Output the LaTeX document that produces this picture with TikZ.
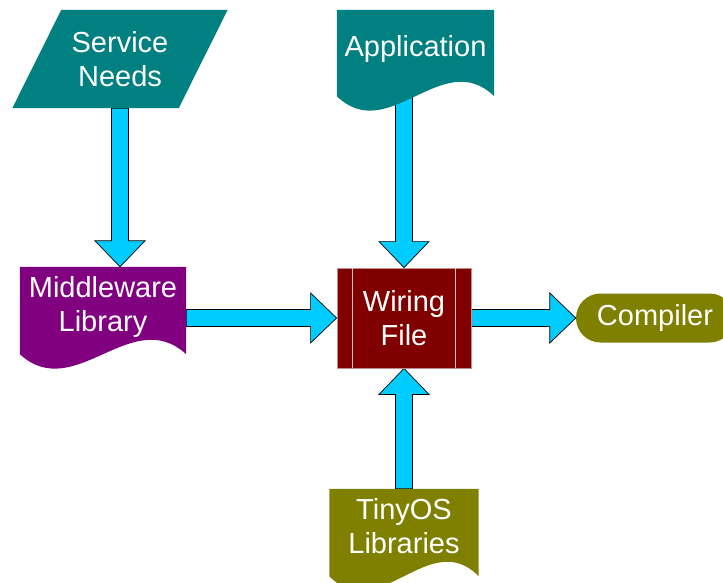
\documentclass[tikz,border=0pt]{standalone}
\usepackage{fontspec}
\setmainfont{Liberation Sans}
\usetikzlibrary{calc,backgrounds}
\definecolor{snteal}{HTML}{008080}
\definecolor{mwpurple}{HTML}{800080}
\definecolor{wfmaroon}{HTML}{800000}
\definecolor{tosolive}{HTML}{808000}
\definecolor{arrowcyan}{HTML}{00CCFF}
\tikzset{
  label/.style={inner sep=0pt, text=white, align=center, font=\fontsize{29}{34}\selectfont},
  docbox/.style={label, minimum height=86pt, text depth=14pt},
  fatarrow/.style={fill=arrowcyan, draw=black, line width=0.7pt, line join=miter},
  wfline/.style={draw=white!75!wfmaroon, line width=0.8pt}
}
\newcommand{\blockarrow}[2]{%
  \coordinate (ah) at ($(#2)!26pt!(#1)$);
  \draw[fatarrow] ($(#1)!8.5pt!90:(#2)$) -- ($(ah)!8.5pt!90:(#2)$) -- ($(ah)!25pt!90:(#2)$) -- (#2)
    -- ($(ah)!25pt!-90:(#2)$) -- ($(ah)!8.5pt!-90:(#2)$) -- ($(#1)!8.5pt!-90:(#2)$) -- cycle;}
\newcommand{\docfill}[2]{%
  \fill[#2] (#1.south west) -- (#1.north west) -- (#1.north east) -- (#1.south east)
    .. controls ($(#1.south east)!0.33!(#1.south west)+(0,-50)$) and ($(#1.south west)!0.33!(#1.south east)+(0,50)$) .. (#1.south west) -- cycle;}
\begin{document}
\begin{tikzpicture}[x=1pt,y=-1pt]
    \useasboundingbox (0,0) rectangle (723,583);
    \clip (0,0) rectangle (723,583);
    \node[label, minimum width=166pt, minimum height=98pt] (sn) at (120,59) {Service\\Needs};
    \node[docbox, minimum width=157pt] (app) at (415.5,53) {Application};
    \node[docbox, minimum width=166pt, minimum height=87pt] (mw) at (103,310.5) {Middleware\\Library};
    \node[label, minimum width=134pt, minimum height=100pt, fill=wfmaroon, draw=white!55!wfmaroon, line width=0.8pt] (wf) at (404,318) {Wiring\\File};
    \node[label, minimum width=158pt, minimum height=49pt, fill=tosolive, rounded corners=24.5pt] (comp) at (655,318) {Compiler};
    \node[docbox, minimum width=149pt, minimum height=87pt] (tos) at (404,532.5) {TinyOS\\Libraries};
    \draw[wfline] ([xshift=16pt]wf.north west) -- ([xshift=16pt]wf.south west);
    \draw[wfline] ([xshift=-16pt]wf.north east) -- ([xshift=-16pt]wf.south east);
    \coordinate (mwin) at (sn.south |- mw.north);
    \coordinate (appout) at (wf.north |- app.south);
    \coordinate (mwout) at (mw.east |- wf.west);
    \begin{scope}[on background layer]
        \blockarrow{sn.south}{mwin}
        \blockarrow{appout}{wf.north}
        \blockarrow{mwout}{wf.west}
        \blockarrow{wf.east}{comp.west}
        \blockarrow{tos.north}{wf.south}
        \fill[snteal] ([xshift=-24.5pt]sn.south west) -- ([xshift=24.5pt]sn.north west) -- ([xshift=24.5pt]sn.north east) -- ([xshift=-24.5pt]sn.south east) -- cycle;
        \docfill{app}{snteal}
        \docfill{mw}{mwpurple}
        \docfill{tos}{tosolive}
    \end{scope}
\end{tikzpicture}
\end{document}
